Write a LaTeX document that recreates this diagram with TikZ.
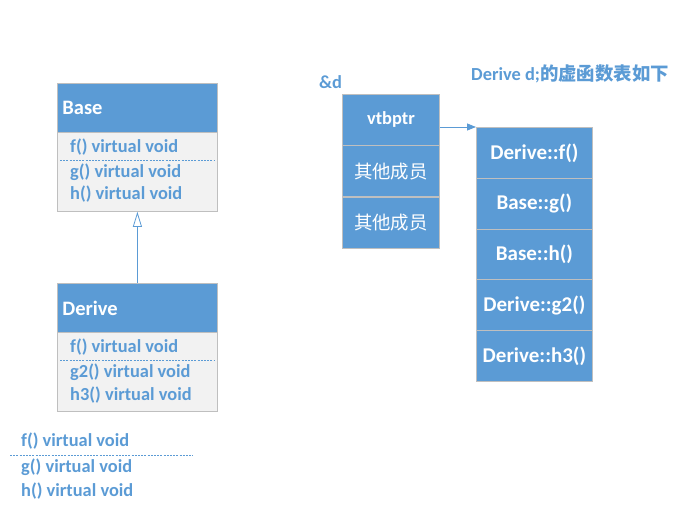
\documentclass[tikz,border=0pt]{standalone}
\usepackage{fontspec}
\setmainfont{Carlito}
\newfontfamily\cjk{Noto Sans CJK SC}
\usetikzlibrary{arrows.meta}
\definecolor{mblue}{HTML}{5B9BD5}
\definecolor{bord}{HTML}{BFBFBF}
\definecolor{bodyfill}{HTML}{F2F2F2}
\begin{document}
\begin{tikzpicture}[x=1pt,y=-1pt,
  hdr/.style={draw=bord, line width=0.8pt, fill=mblue, text=white, font=\bfseries\fontsize{20.5}{24}\selectfont,
    minimum height=49pt, anchor=north west, inner xsep=5pt, text width=150pt, align=left},
  bodybox/.style={draw=bord, line width=0.8pt, fill=bodyfill, minimum width=160pt, minimum height=79pt, anchor=north west, inner sep=0pt},
  mtxt/.style={text=mblue, font=\bfseries\fontsize{18.4}{22}\selectfont, anchor=west, inner sep=0pt},
  sepline/.style={mblue, dash pattern=on 2pt off 1.2pt, line width=0.6pt},
  cell/.style={draw=bord, line width=0.8pt, fill=mblue, text=white, anchor=north west, inner sep=0pt},
  vcell/.style={cell, font=\bfseries\fontsize{21}{25}\selectfont, minimum width=116pt, minimum height=51pt},
  pcell/.style={cell, font=\cjk\fontsize{18.4}{22}\selectfont, minimum width=97pt, minimum height=51pt}
]
\useasboundingbox (0,0) rectangle (691,522);

% Base class
\node[hdr] (bh) at (57,83) {Base};
\node[bodybox] (bb) at (57,132) {};
\node[mtxt] (bf) at (70,147) {f() virtual void};
\coordinate (bs1) at (60,160);
\coordinate (bs2) at (214,160);
\draw[sepline] (bs1) -- (bs2);
\node[mtxt] (bg) at (70,172) {g() virtual void};
\node[mtxt] (bhh) at (70,194) {h() virtual void};

% Derive class
\node[hdr] (dh) at (57,283) {Derive};
\node[bodybox] (db) at (57,332) {};
\node[mtxt] (df) at (70,347) {f() virtual void};
\coordinate (ds1) at (60,360);
\coordinate (ds2) at (214,360);
\draw[sepline] (ds1) -- (ds2);
\node[mtxt] (dg) at (70,372) {g2() virtual void};
\node[mtxt] (dhh) at (70,395) {h3() virtual void};

\draw[mblue, line width=0.8pt, -{Triangle[open, length=15pt, width=9pt, fill=white]}] (dh.north) -- (bb.south);

% free list
\node[mtxt] (lf) at (21,441) {f() virtual void};
\coordinate (ls1) at (10,455);
\coordinate (ls2) at (193,455);
\draw[sepline] (ls1) -- (ls2);
\node[mtxt] (lg) at (21,467) {g() virtual void};
\node[mtxt] (lh) at (21,491) {h() virtual void};

% object d
\node[mtxt] (amp) at (319,82) {\&d};
\node[pcell, font=\bfseries\fontsize{18.4}{22}\selectfont] (p1) at (342,94) {vtbptr};
\node[pcell] (p2) at (342,145.3) {其他成员};
\node[pcell] (p3) at (342,196.6) {其他成员};

% vtable
\node[text=mblue, font=\bfseries\fontsize{18.4}{22}\selectfont, inner sep=0pt] (title) at (570,74) {Derive d;{\cjk\bfseries 的虚函数表如下}};
\node[vcell] (v1) at (476,127) {Derive::f()};
\node[vcell] (v2) at (476,177.8) {Base::g()};
\node[vcell] (v3) at (476,228.6) {Base::h()};
\node[vcell] (v4) at (476,279.4) {Derive::g2()};
\node[vcell] (v5) at (476,330.2) {Derive::h3()};

\draw[mblue, line width=0.8pt, -{Triangle[length=9pt, width=7pt]}] (p1.east |- v1.north west) -- (v1.north west);
\end{tikzpicture}
\end{document}
